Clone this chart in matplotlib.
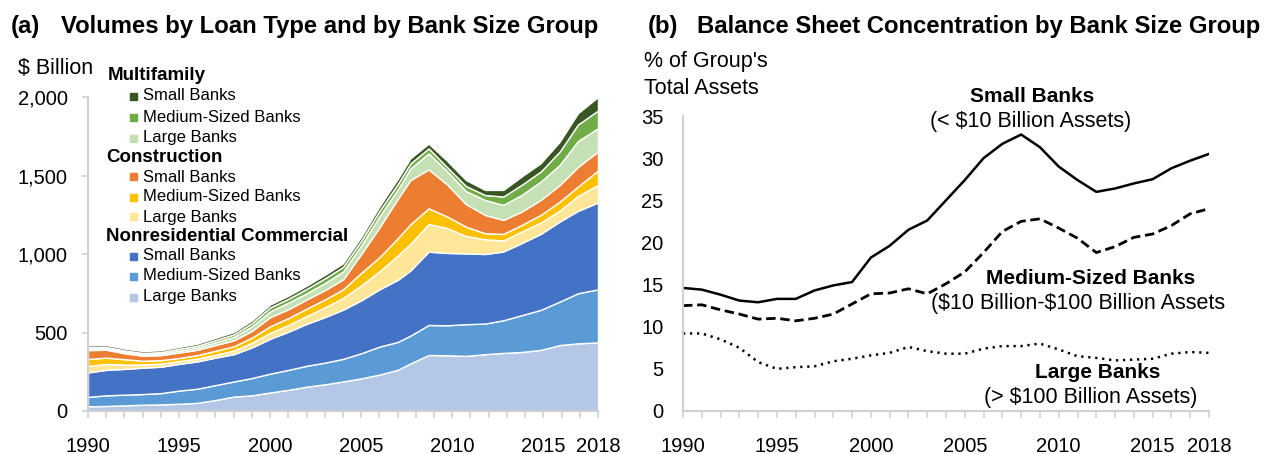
import numpy as np
import matplotlib
matplotlib.use('Agg')
import matplotlib.pyplot as plt

plt.rcParams['font.family'] = ['Liberation Sans', 'DejaVu Sans']

# (a) loan volumes, $ billion, stacked from bottom (read positions along the x axis)
years_a = [1990, 1991, 1992, 1993, 1994, 1995, 1996, 1997, 1998, 1999, 2000, 2001, 2002,
           2003, 2004, 2005, 2006, 2007, 2007.7, 2008.7, 2009.7, 2010.75, 2011.8, 2012.8,
           2013.8, 2014.85, 2015.9, 2016.9, 2018]
nrc_large = [30,32,36,40,42,46,52,70,92,100,118,135,155,170,188,208,232,262,303,357,355,351,362,370,376,389,420,431,437]
nrc_medium = [60,68,68,68,72,84,90,95,96,110,120,127,133,138,144,160,178,178,177,191,191,202,195,208,234,255,277,319,338]
nrc_small = [156,162,164,168,168,170,174,175,174,195,222,243,267,290,313,337,365,395,415,467,461,451,443,438,459,484,510,525,553]
con_large = [41,38,28,20,20,18,18,18,23,30,38,43,50,62,75,95,115,155,170,176,159,111,94,70,74,72,70,95,112]
con_medium = [44,40,34,24,22,20,22,26,27,33,42,44,47,50,55,80,90,110,125,100,74,59,38,42,42,49,57,60,92]
con_small = [57,50,38,32,32,34,34,36,38,42,58,56,58,60,63,120,190,250,281,248,205,144,117,89,85,95,106,125,121]
mf_large = [10,10,10,10,10,12,14,18,22,30,37,42,40,45,50,55,70,60,74,102,85,83,95,96,106,117,128,165,148]
mf_medium = [8,8,8,8,9,12,12,14,16,20,25,25,28,30,30,30,35,35,32,32,25,32,32,53,64,64,85,105,113]
mf_small = [12,12,12,12,12,12,13,14,15,17,18,19,20,22,23,25,28,32,32,30,40,38,32,42,53,53,63,72,86]

# (b) % of group's total assets
years_b = list(range(1990, 2019))
small_share = [14.6,14.4,13.8,13.1,12.9,13.3,13.3,14.3,14.9,15.3,18.2,19.6,21.5,22.6,25.0,27.4,30.0,31.7,32.8,31.3,29.0,27.4,26.0,26.4,27.0,27.5,28.8,29.7,30.5]
medium_share = [12.5,12.6,12.0,11.5,10.9,11.0,10.7,11.0,11.5,12.7,13.9,14.0,14.5,13.9,15.1,16.5,18.8,21.3,22.5,22.8,21.7,20.5,18.8,19.5,20.6,21.0,22.0,23.4,24.0]
large_share = [9.2,9.2,8.5,7.5,5.8,5.0,5.2,5.3,5.9,6.2,6.6,6.9,7.6,7.1,6.8,6.8,7.4,7.7,7.7,8.0,7.3,6.5,6.3,6.0,6.1,6.2,6.8,7.0,6.9]

tick_years = [1990, 1995, 2000, 2005, 2010, 2015, 2018]

colors = ['#b4c7e7', '#5b9bd5', '#4472c4',
          '#ffe699', '#ffc000', '#ed7d31',
          '#c5e0b4', '#70ad47', '#375623']

W, H = 1270, 454
fig = plt.figure(figsize=(W/100, H/100), dpi=100)

def fx(x):
    return x / W

def fy(y):
    return 1 - y / H

grey = '#d0d0d0'

def style_axis(ax):
    for s in ['top', 'right']:
        ax.spines[s].set_visible(False)
    for s in ['left', 'bottom']:
        ax.spines[s].set_color(grey)
        ax.spines[s].set_linewidth(1.5)
    ax.set_xlim(1990, 2018)
    ax.set_xticks(range(1990, 2019), minor=True)
    ax.set_xticks(tick_years)
    ax.set_xticklabels([str(y) for y in tick_years])
    ax.tick_params(axis='x', which='both', direction='out', length=5, width=1.2,
                   color=grey, pad=14, labelsize=14.5)

# ---- panel (a)
ax1 = fig.add_axes([fx(88), fy(411), fx(598) - fx(88), fy(97) - fy(411)])
ax1.stackplot(years_a, nrc_large, nrc_medium, nrc_small, con_large, con_medium,
              con_small, mf_large, mf_medium, mf_small, colors=colors,
              edgecolor='white', linewidth=1.0)
style_axis(ax1)
ax1.set_ylim(0, 2000)
ax1.set_yticks([0, 500, 1000, 1500, 2000])
ax1.set_yticklabels(['0', '500', '1,000', '1,500', '2,000'])
ax1.tick_params(axis='y', direction='out', length=4.5, width=1.2, color=grey, pad=10, labelsize=14.5)

fig.text(fx(11), fy(27), '(a)', fontsize=17.2, fontweight='bold', va='center')
fig.text(fx(61), fy(27), 'Volumes by Loan Type and by Bank Size Group',
         fontsize=17.2, fontweight='bold', va='center')
fig.text(fx(18), fy(69), r'\$ Billion', fontsize=15.5, va='center')

groups = [('Multifamily', 75, 108, [('Small Banks', colors[8], 96),
                                     ('Medium-Sized Banks', colors[7], 117),
                                     ('Large Banks', colors[6], 138)]),
          ('Construction', 157, 106, [('Small Banks', colors[5], 177),
                                      ('Medium-Sized Banks', colors[4], 197),
                                      ('Large Banks', colors[3], 217)]),
          ('Nonresidential Commercial', 237, 106, [('Small Banks', colors[2], 256),
                                                   ('Medium-Sized Banks', colors[1], 276),
                                                   ('Large Banks', colors[0], 297)])]
for name, gy, gx, items in groups:
    fig.text(fx(gx), fy(gy), name, fontsize=13.5, fontweight='bold', va='center')
    for lab, c, iy in items:
        fig.patches.append(plt.Rectangle((fx(130), fy(iy + 3.5)), fx(7), fy(0) - fy(7),
                                         transform=fig.transFigure, color=c))
        fig.text(fx(143), fy(iy), lab, fontsize=12, va='center')

# ---- panel (b)
ax2 = fig.add_axes([fx(683), fy(411), fx(1209) - fx(683), fy(116) - fy(411)])
ax2.plot(years_b, small_share, color='black', lw=1.8, ls='-')
ax2.plot(years_b, medium_share, color='black', lw=2.0, ls=(0, (3.4, 1.7)))
ax2.plot(years_b, large_share, color='black', lw=1.8, ls=(0, (0.9, 1.9)))
style_axis(ax2)
ax2.set_ylim(0, 35)
ax2.set_yticks(range(0, 36, 5))
ax2.tick_params(axis='y', length=0, pad=14, labelsize=14.5)

fig.text(fx(648), fy(27), '(b)', fontsize=17.2, fontweight='bold', va='center')
fig.text(fx(697), fy(27), 'Balance Sheet Concentration by Bank Size Group',
         fontsize=17.2, fontweight='bold', va='center')
fig.text(fx(644), fy(62), "% of Group's", fontsize=15.5, va='center')
fig.text(fx(644), fy(89), 'Total Assets', fontsize=15.5, va='center')

fig.text(fx(1032), fy(96), 'Small Banks', fontsize=15, fontweight='bold', ha='center', va='center')
fig.text(fx(1031), fy(121), r'(< \$10 Billion Assets)', fontsize=15.5, ha='center', va='center')
fig.text(fx(1091), fy(278), 'Medium-Sized Banks', fontsize=15, fontweight='bold', ha='center', va='center')
fig.text(fx(931), fy(303), r'(\$10 Billion-\$100 Billion Assets', fontsize=15.5, ha='left', va='center')
fig.text(fx(1098), fy(373), 'Large Banks', fontsize=15, fontweight='bold', ha='center', va='center')
fig.text(fx(1091), fy(398), r'(> \$100 Billion Assets)', fontsize=15.5, ha='center', va='center')

fig.savefig('out.png', dpi=100)
